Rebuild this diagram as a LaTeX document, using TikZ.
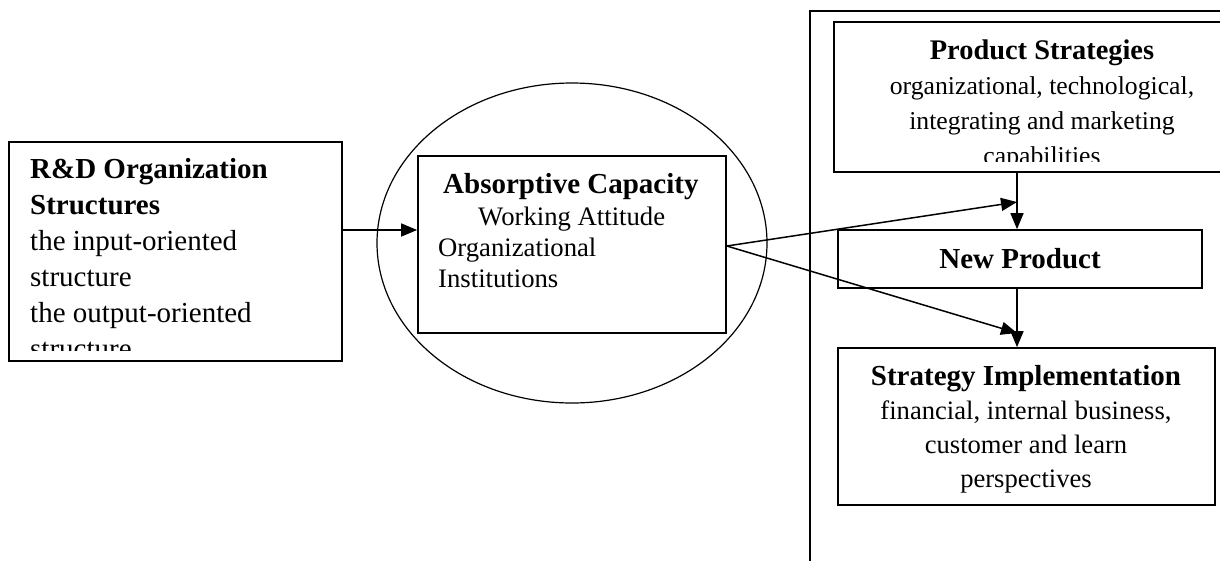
\documentclass[tikz,border=0pt]{standalone}
\usepackage{fontspec}
\setmainfont{Liberation Serif}
\usetikzlibrary{shapes.geometric,positioning,arrows.meta}

\begin{document}
\begin{tikzpicture}[x=1pt, y=-1pt,
    box/.style={rectangle, draw, line width=1.7pt, inner sep=0pt},
    txt/.style={inner sep=0pt, font=\fontsize{29}{36}\selectfont},
    arr/.style={line width=1.5pt, -{Triangle[length=16pt, width=13pt]}}]
    \clip (0,0) rectangle (1220,560);

    % Outer frame on the right
    \draw[line width=1.2pt] (810,600) |- (1300,11);

    % Left box
    \node[box, minimum width=333pt, minimum height=219pt] (rd) at (175.5,251.5) {};
    \begin{scope}
        \clip (rd.north west) rectangle ([yshift=11pt]rd.south east);
        \node[txt, anchor=north west, align=left] (rdtext) at (30,158.5)
            {\textbf{R\&D Organization}\\ \textbf{Structures}\\ the input-oriented\\
             structure\\ the output-oriented\\ structure};
    \end{scope}

    % Absorptive capacity inside the ellipse
    \node[ellipse, draw, line width=1.2pt, minimum width=390pt, minimum height=320pt]
        (ell) at (572,243) {};
    \node[box, minimum width=308pt, minimum height=177pt] (ac) at (572,244.5) {};
    \node[txt, font=\fontsize{26.7}{31.3}\selectfont, anchor=north west, align=left]
        (actext) at (438,173.5)
        {\hspace*{5pt}{\fontsize{29}{31.3}\selectfont\bfseries Absorptive Capacity}\\
         \hspace*{40pt}Working Attitude\\ Organizational\\ Institutions};

    % Right column
    \node[box, minimum width=416pt, minimum height=150pt] (ps) at (1042,97) {};
    \begin{scope}
        \clip (ps.north west) rectangle ([yshift=11pt]ps.south east);
        \node[txt, font=\fontsize{25.7}{35}\selectfont, anchor=north, align=center]
            (pstext) at (1042,39.5)
            {{\fontsize{28.4}{35}\selectfont\bfseries Product Strategies}\\
             organizational, technological,\\ integrating and marketing\\ capabilities};
    \end{scope}
    \node[box, txt, minimum width=364pt, minimum height=58pt]
        (np) at (1020,259) {\textbf{New Product}};
    \node[box, minimum width=377pt, minimum height=157pt] (si) at (1026.5,426.5) {};
    \node[txt, font=\fontsize{26.6}{34}\selectfont, anchor=north, align=center]
        (sitext) at (1026,365.5)
        {{\fontsize{29}{34}\selectfont\bfseries Strategy Implementation}\\
         financial, internal business,\\ customer and learn\\ perspectives};

    % Where the diagonal arrows end
    \coordinate (hitA) at (1017,202);
    \coordinate (hitB) at (1017,333);

    % Arrows
    \draw[arr] ([yshift=21.5pt]rd.east) -- ([yshift=21.5pt]rd.east -| ac.west);
    \draw[arr] ([xshift=-3pt]np.north |- ps.south) -- ([xshift=-3pt]np.north);
    \draw[arr] ([xshift=-3pt]np.south) -- ([xshift=-3pt]np.south |- si.north);
    \draw[arr] ([yshift=-1.5pt]ac.east) -- (hitA);
    \draw[arr] ([yshift=-1.5pt]ac.east) -- (hitB);
\end{tikzpicture}
\end{document}
